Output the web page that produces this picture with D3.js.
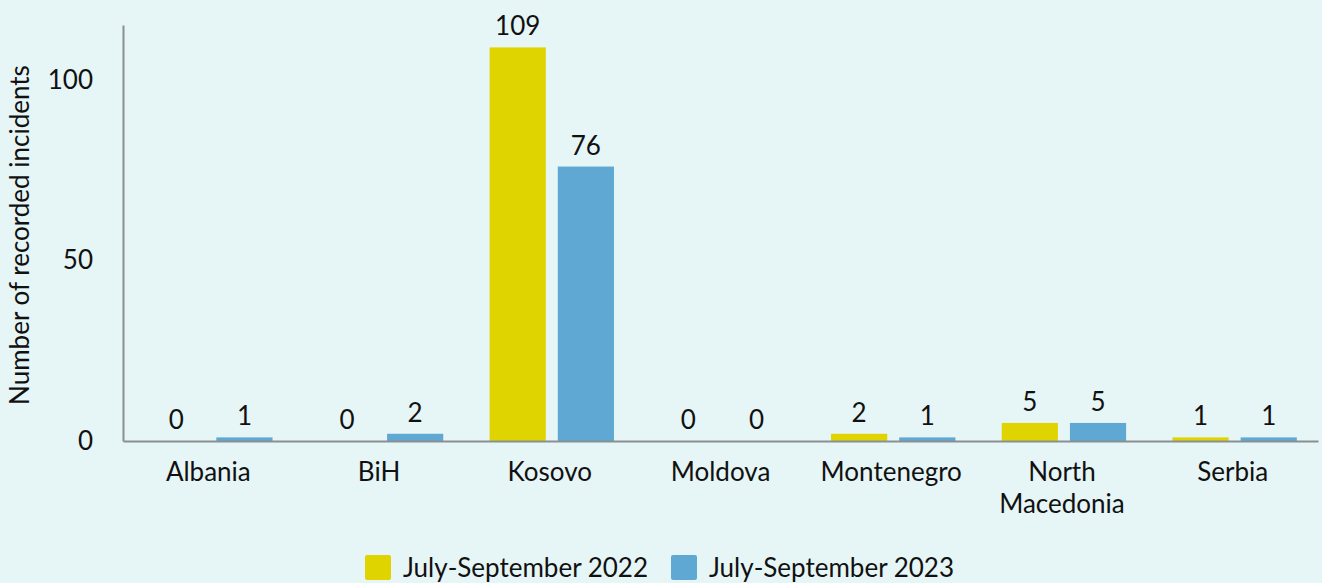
<!DOCTYPE html>
<html>
<head>
<meta charset="utf-8">
<script src="https://cdn.jsdelivr.net/npm/d3@7"></script>
<style>
  body { margin: 0; background: #e6f5f6; }
  svg text { font-family: Lato, "Open Sans", sans-serif; fill: #111; }
</style>
</head>
<body>
<div id="chart"></div>
<script>
const categories = ["Albania", "BiH", "Kosovo", "Moldova", "Montenegro", "North Macedonia", "Serbia"];
const series2022 = [0, 0, 109, 0, 2, 5, 1];
const series2023 = [1, 2, 76, 0, 1, 5, 1];
const seriesNames = ["July-September 2022", "July-September 2023"];
const yTicks = [0, 50, 100];

const W = 1322, H = 583;
const MARGIN = { TOP: 25, BOTTOM: 142, LEFT: 123, RIGHT: 4 };
const WIDTH = W - MARGIN.LEFT - MARGIN.RIGHT;
const HEIGHT = H - MARGIN.TOP - MARGIN.BOTTOM;
const COLORS = ["#e0d400", "#5fa8d3"];
const FS = 26;

const svg = d3.select("#chart").append("svg").attr("width", W).attr("height", H);
svg.append("rect").attr("width", W).attr("height", H).attr("fill", "#e6f5f6");

const g = svg.append("g").attr("transform", `translate(${MARGIN.LEFT}, ${MARGIN.TOP})`);

const y = d3.scaleLinear().domain([0, 115.2]).range([HEIGHT, 0]);
const x = d3.scaleBand().domain(categories).range([0, WIDTH]);
// the pair of bars sits a touch right of the band centre
const x1 = d3.scaleBand().domain([0, 1]).range([2, x.bandwidth() + 2]).paddingInner(0.176).paddingOuter(0.34);

const data = categories.map((c, i) => ({ cat: c, vals: [series2022[i], series2023[i]] }));

// bars
const groups = g.selectAll(".grp").data(data).enter().append("g")
  .attr("transform", (d) => `translate(${x(d.cat)}, 0)`);

groups.selectAll("rect").data((d) => d.vals.map((v, k) => ({ v, k })))
  .enter().append("rect")
  .attr("x", (d) => x1(d.k))
  .attr("width", x1.bandwidth())
  .attr("y", (d) => y(d.v))
  .attr("height", (d) => HEIGHT - y(d.v))
  .attr("fill", (d) => COLORS[d.k]);

groups.selectAll("text.val").data((d) => d.vals.map((v, k) => ({ v, k })))
  .enter().append("text")
  .attr("class", "val")
  .attr("x", (d) => x1(d.k) + x1.bandwidth() / 2)
  .attr("y", (d) => y(d.v) - 12)
  .attr("text-anchor", "middle")
  .attr("font-size", FS)
  .text((d) => d.v);

// axes
const yAxis = g.append("g").call(d3.axisLeft(y).tickValues(yTicks).tickSize(0).tickPadding(30));
yAxis.select(".domain").attr("stroke", "#8a8f94").attr("stroke-width", 2);
yAxis.selectAll("text").attr("font-size", FS).style("font-family", "Lato, sans-serif");

const xAxis = g.append("g").attr("transform", `translate(0, ${HEIGHT})`)
  .call(d3.axisBottom(x).tickSize(0).tickPadding(22));
xAxis.select(".domain").attr("stroke", "#8a8f94").attr("stroke-width", 2);
xAxis.selectAll("text").attr("font-size", FS).style("font-family", "Lato, sans-serif")
  .each(function (d) {
    const t = d3.select(this);
    const words = d.split(" ");
    if (words.length > 1) {
      t.text(null);
      words.forEach((w, i) => {
        t.append("tspan").attr("x", 0).attr("dy", i === 0 ? "0.71em" : "1.2em").text(w);
      });
      t.attr("dy", null);
    }
  });

// y title
g.append("text")
  .attr("transform", "rotate(-90)")
  .attr("x", -210)
  .attr("y", -94)
  .attr("text-anchor", "middle")
  .attr("font-size", FS)
  .text("Number of recorded incidents");

// legend
const legend = svg.append("g").attr("transform", "translate(365, 555)");
const legX = [0, 306];
seriesNames.forEach((s, i) => {
  const lg = legend.append("g").attr("transform", `translate(${legX[i]}, 0)`);
  lg.append("rect").attr("width", 26).attr("height", 25).attr("rx", 2).attr("fill", COLORS[i]);
  lg.append("text").attr("x", 38).attr("y", 22).attr("font-size", FS).text(s);
});
</script>
</body>
</html>
